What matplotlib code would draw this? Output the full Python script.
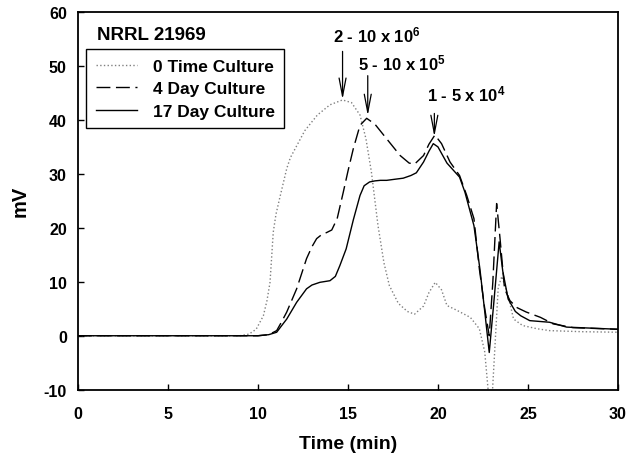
import matplotlib.pyplot as plt

plt.rcParams["font.family"] = ["Liberation Sans", "DejaVu Sans"]
plt.rcParams["font.weight"] = "bold"
plt.rcParams["mathtext.fontset"] = "custom"
plt.rcParams["mathtext.rm"] = "Liberation Sans:bold"
plt.rcParams["mathtext.default"] = "rm"
plt.rcParams["axes.unicode_minus"] = False

# --- data ---
t0_x = [0, 9.0, 9.5, 9.9, 10.3, 10.5, 10.67, 10.85, 11.0, 11.2, 11.6, 11.8, 12.2,
        12.6, 13.3, 14.0, 14.7, 15.2, 15.67, 16.0, 16.3, 16.67, 17.0, 17.3, 17.8,
        18.3, 18.7, 19.2, 19.5, 19.85, 20.2, 20.5, 21.0, 21.8, 22.3, 22.6, 22.8,
        23.0, 23.15, 23.35, 23.55, 23.9, 24.2, 24.7, 25.5, 26.2, 28.0, 30]
t0_y = [0, 0, 0.3, 1.2, 3.7, 6.5, 9.9, 19.2, 22.5, 25.4, 31.0, 33.0, 35.5,
        38.0, 40.9, 42.8, 43.7, 43.2, 40.9, 36.5, 30.4, 20.4, 13.5, 9.3, 6.0,
        4.5, 4.0, 5.5, 8.0, 9.9, 8.5, 5.6, 4.8, 3.4, 1.3, -3.0, -10.5,
        -12.0, -3.0, 9.0, 11.0, 7.4, 3.1, 1.9, 1.3, 0.95, 0.75, 0.65]

d4_x = [0, 10.0, 10.6, 11.04, 11.3, 11.6, 12.15, 12.7, 13.0, 13.26, 13.6, 13.8,
        14.1, 14.4, 14.74, 15.0, 15.3, 15.67, 16.04, 16.5, 17.15, 17.9, 18.4,
        18.7, 19.2, 19.5, 19.83, 20.2, 20.67, 21.2, 21.6, 22.0, 22.3, 22.6,
        22.85, 23.05, 23.26, 23.45, 23.7, 24.0, 24.4, 24.9, 25.7, 26.4, 27.5, 30]
d4_y = [0, 0, 0.2, 0.95, 2.5, 4.4, 8.7, 14.3, 16.5, 18.0, 18.9, 19.1,
        19.6, 21.7, 26.6, 30.5, 34.7, 39.0, 40.3, 39.2, 36.5, 33.4, 32.0,
        31.8, 33.4, 35.5, 37.2, 35.6, 32.2, 29.7, 26.0, 21.7, 12.4, 5.0,
        0.0, 10.0, 24.5, 18.0, 8.7, 6.5, 5.2, 4.4, 3.4, 2.2, 1.5, 1.2]

d17_x = [0, 10.0, 10.6, 11.04, 11.3, 11.6, 12.15, 12.7, 13.0, 13.44, 14.0, 14.3,
         14.55, 14.9, 15.3, 15.67, 15.9, 16.2, 16.5, 16.8, 17.15, 17.6, 18.07,
         18.5, 18.8, 19.2, 19.5, 19.74, 20.0, 20.5, 21.2, 21.5, 22.0, 22.33,
         22.6, 22.85, 23.1, 23.4, 23.6, 23.9, 24.3, 24.6, 25.1, 26.2, 27.15, 30]
d17_y = [0, 0, 0.2, 0.65, 1.8, 3.1, 6.2, 8.7, 9.4, 9.9, 10.2, 11.0,
         13.0, 16.1, 21.5, 26.0, 27.8, 28.5, 28.7, 28.8, 28.8, 29.0, 29.2,
         29.7, 30.2, 32.2, 34.2, 35.6, 35.0, 32.0, 29.4, 26.6, 20.4, 12.4,
         4.5, -3.1, 6.0, 17.4, 12.0, 6.8, 4.5, 3.7, 2.8, 2.5, 1.6, 1.2]

series_labels = ["0 Time Culture", "4 Day Culture", "17 Day Culture"]

# annotated peaks: text, arrow x, arrow tip y, arrow tail y, text x, text y
peak_text = [r"2 - 10 x 10$^{6}$", r"5 - 10 x 10$^{5}$", r"1 - 5 x 10$^{4}$"]
peak_x = [14.7, 16.1, 19.8]
peak_tip = [43.8, 40.8, 36.9]
peak_tail = [52.7, 48.2, 41.2]
text_x = [16.6, 18.0, 21.6]
text_y = [54.0, 48.8, 43.0]

fig = plt.figure(figsize=(6.36, 4.56), dpi=100)
ax = fig.add_axes([0.1226, 0.1432, 0.849, 0.8283])

ax.plot(t0_x, t0_y, color="#808080", linestyle=":", linewidth=1.0, label=series_labels[0])
ax.plot(d4_x, d4_y, color="black", linestyle=(0, (10, 4)), linewidth=1.0, label=series_labels[1])
ax.plot(d17_x, d17_y, color="black", linestyle="-", linewidth=1.0, label=series_labels[2])

for txt, px, tip, tail, tx, ty in zip(peak_text, peak_x, peak_tip, peak_tail, text_x, text_y):
    ax.annotate("", xy=(px, tip), xytext=(px, tail),
                arrowprops=dict(arrowstyle="->,head_length=1.3,head_width=0.25",
                                color="black", lw=0.9, shrinkA=0, shrinkB=0))
    ax.text(tx, ty, txt, ha="center", va="bottom", fontsize=12, fontweight="bold")

ax.text(0.035, 0.962, "NRRL 21969", transform=ax.transAxes, ha="left", va="top",
        fontsize=13.5, fontweight="bold")

leg = ax.legend(loc="upper left", bbox_to_anchor=(0.015, 0.902), fontsize=12.5,
                handlelength=2.4, frameon=True, fancybox=False, borderaxespad=0,
                labelspacing=0.42, borderpad=0.55, handletextpad=0.9)
leg.get_frame().set_edgecolor("black")
leg.get_frame().set_linewidth(1.0)
leg.get_frame().set_alpha(1)

ax.set_xlim(0, 30)
ax.set_ylim(-10, 60)
ax.set_xticks([0, 5, 10, 15, 20, 25, 30])
ax.set_yticks([-10, 0, 10, 20, 30, 40, 50, 60])
ax.tick_params(direction="in", length=4, width=1, labelsize=11.5)
ax.tick_params(axis="x", pad=12)
ax.tick_params(axis="y", pad=8)
for lab in ax.get_xticklabels() + ax.get_yticklabels():
    lab.set_fontweight("bold")
for sp in ax.spines.values():
    sp.set_linewidth(1.3)

ax.set_xlabel("Time (min)", fontsize=14, fontweight="bold", labelpad=10)
ax.set_ylabel("mV", fontsize=14.5, fontweight="bold", labelpad=10)

fig.savefig("out.png", dpi=100)
